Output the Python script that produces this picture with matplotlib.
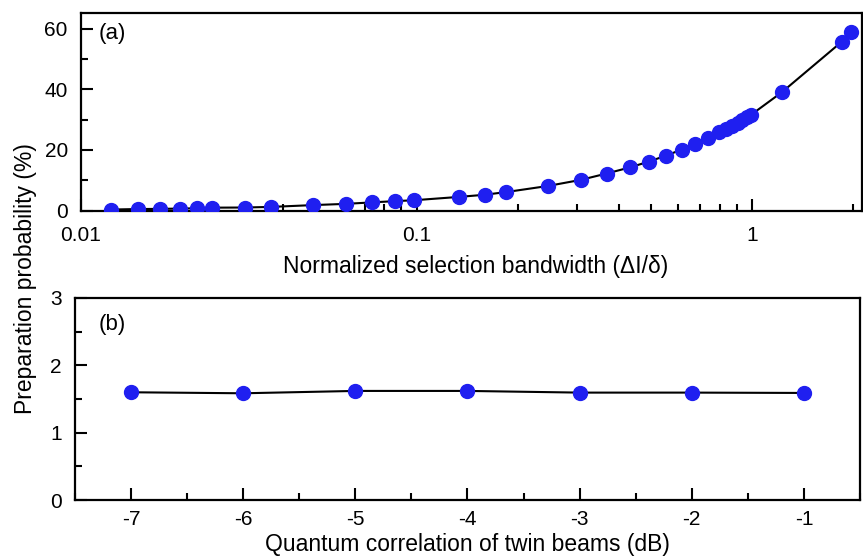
import numpy as np
import matplotlib; matplotlib.use("Agg"); import matplotlib.pyplot as plt
from matplotlib.ticker import FixedLocator, NullFormatter, MultipleLocator

plt.rcParams["font.family"] = ["Liberation Sans", "DejaVu Sans"]
plt.rcParams["axes.unicode_minus"] = False

# panel (a): preparation probability vs normalized selection bandwidth
bw = [0.0123, 0.0148, 0.0172, 0.0197, 0.0222, 0.0246, 0.0308, 0.0369, 0.0492, 0.0615,
      0.0738, 0.0861, 0.0984, 0.1338, 0.1594, 0.185, 0.246, 0.308, 0.368, 0.431,
      0.491, 0.553, 0.616, 0.676, 0.736, 0.798, 0.836, 0.871, 0.904, 0.935,
      0.964, 0.99, 1.225, 1.85, 1.97]
prob_a = [0.33, 0.5, 0.55, 0.65, 0.75, 0.95, 1.0, 1.2, 1.8, 2.2,
          2.7, 3.1, 3.4, 4.5, 5.2, 6.1, 8.1, 10.1, 12.2, 14.2,
          16.1, 18.1, 20.1, 22.0, 24.0, 25.9, 27.0, 27.9, 28.9, 29.8,
          30.7, 31.5, 39.0, 55.7, 58.8]
# panel (b): preparation probability vs quantum correlation
qc = [-7, -6, -5, -4, -3, -2, -1]
prob_b = [1.60, 1.585, 1.62, 1.62, 1.595, 1.595, 1.59]

BLUE = "#1f1ff0"
TFS, LFS = 15, 16.5

fig = plt.figure(figsize=(8.63, 5.57), dpi=100)
axa = fig.add_axes([0.0939, 0.622, 0.9055, 0.354])
axb = fig.add_axes([0.0869, 0.1023, 0.9096, 0.3627])

def style(ax, xpad):
    for s in ax.spines.values():
        s.set_linewidth(1.6)
    ax.tick_params(which="both", direction="in", top=False, right=False,
                   labelsize=TFS, width=1.5)
    ax.tick_params(which="major", length=8.6)
    ax.tick_params(which="minor", length=5)
    ax.tick_params(axis="x", pad=xpad)
    ax.tick_params(axis="y", pad=9.5)

axa.plot(bw, prob_a, "-", color="black", lw=1.5, marker="o", ms=10,
         mfc=BLUE, mec=BLUE, zorder=3)
axa.set_xscale("log")
axa.set_xlim(0.01, 2.13)
axa.set_ylim(0, 65)
axa.xaxis.set_major_locator(FixedLocator([0.01, 0.1, 1]))
axa.set_xticklabels(["0.01", "0.1", "1"])
axa.xaxis.set_minor_locator(FixedLocator([k * 10.0**e for e in (-2, -1, 0) for k in range(2, 10)]))
axa.xaxis.set_minor_formatter(NullFormatter())
axa.yaxis.set_major_locator(MultipleLocator(20))
axa.yaxis.set_minor_locator(MultipleLocator(10))
style(axa, 11)
axa.set_xlabel("Normalized selection bandwidth (\u0394I/\u03b4)", fontsize=LFS)
axa.xaxis.set_label_coords(0.505, -0.225)
axa.text(0.022, 0.9, "(a)", transform=axa.transAxes, fontsize=16, va="center")

axb.plot(qc, prob_b, "-", color="black", lw=1.5, marker="o", ms=10,
         mfc=BLUE, mec=BLUE, zorder=3)
axb.set_xlim(-7.5, -0.5)
axb.set_ylim(0, 3)
axb.xaxis.set_major_locator(MultipleLocator(1))
axb.xaxis.set_minor_locator(MultipleLocator(0.5))
axb.yaxis.set_major_locator(MultipleLocator(1))
axb.yaxis.set_minor_locator(MultipleLocator(0.5))
style(axb, 7)
axb.set_xlabel("Quantum correlation of twin beams (dB)", fontsize=LFS)
axb.xaxis.set_label_coords(0.5, -0.161)
axb.text(0.03, 0.87, "(b)", transform=axb.transAxes, fontsize=16, va="center")

fig.text(0.029, 0.50, "Preparation probability (%)", rotation=90, fontsize=LFS,
         ha="center", va="center")

fig.savefig("out.png", dpi=100)
